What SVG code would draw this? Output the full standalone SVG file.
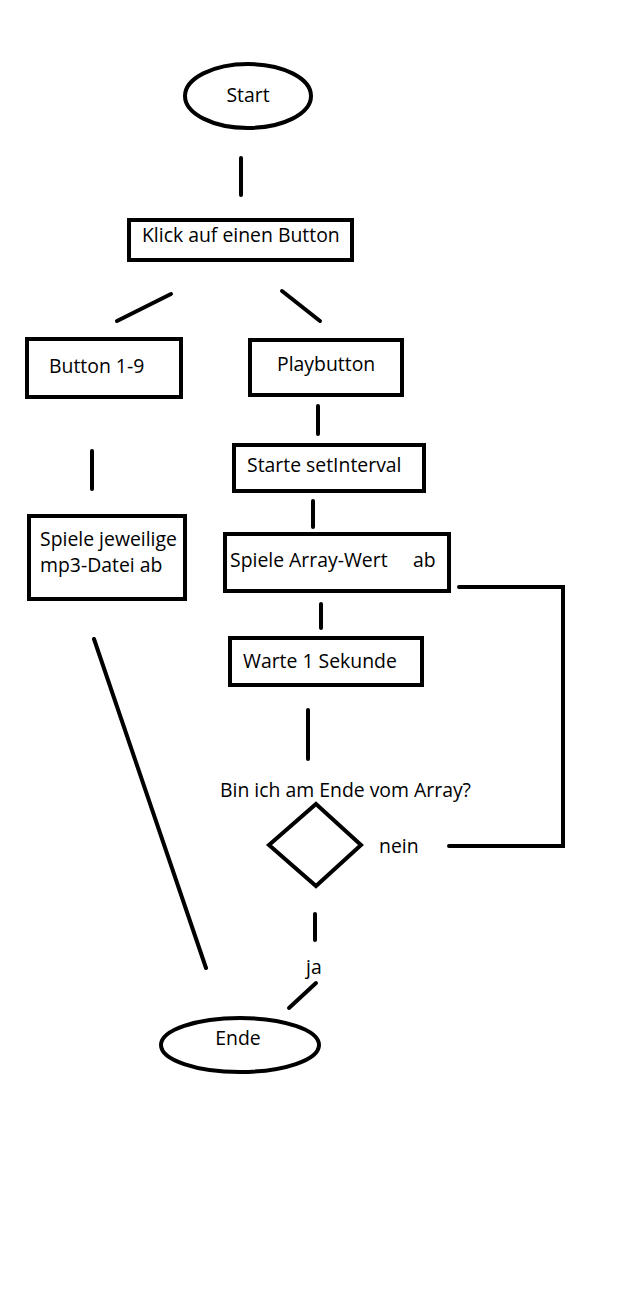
<svg xmlns="http://www.w3.org/2000/svg" width="643" height="1305" viewBox="0 0 643 1305">
<style>
.n{fill:none;stroke:#000;stroke-width:4}
.c{fill:none;stroke:#000;stroke-width:4;stroke-linecap:round;stroke-linejoin:miter}
text{font-family:"Open Sans","Noto Sans","Liberation Sans",sans-serif;font-size:19.4px;fill:#000}
</style>
<rect width="643" height="1305" fill="#fff"/>
<g id="connectors">
<line class="c" x1="241" y1="158" x2="241" y2="195"/>
<line class="c" x1="171" y1="294" x2="117" y2="321"/>
<line class="c" x1="282" y1="291" x2="320" y2="321"/>
<line class="c" x1="92" y1="451" x2="92" y2="489"/>
<line class="c" x1="318" y1="406" x2="318" y2="434"/>
<line class="c" x1="313" y1="501" x2="313" y2="527"/>
<line class="c" x1="321" y1="604" x2="321" y2="628"/>
<line class="c" x1="308" y1="710" x2="308" y2="759"/>
<polyline class="c" points="449,846 563,846 563,587 459,587"/>
<line class="c" x1="315" y1="914" x2="315" y2="940"/>
<line class="c" x1="316" y1="983" x2="289" y2="1008"/>
<line class="c" x1="94" y1="639" x2="206" y2="968"/>
<text x="379" y="853">nein</text>
<text x="306" y="974">ja</text>
</g>
<g id="start"><ellipse class="n" cx="248" cy="96" rx="63" ry="32"/><text x="248" y="102" text-anchor="middle">Start</text></g>
<g id="klick"><rect class="n" x="129" y="220" width="223" height="40"/><text x="142" y="242">Klick auf einen Button</text></g>
<g id="button19"><rect class="n" x="27" y="339" width="154" height="58"/><text x="49" y="373">Button 1-9</text></g>
<g id="playbutton"><rect class="n" x="250" y="340" width="152" height="55"/><text x="277" y="371">Playbutton</text></g>
<g id="setinterval"><rect class="n" x="234" y="445" width="190" height="46"/><text x="247" y="472">Starte setInterval</text></g>
<g id="spielearray"><rect class="n" x="225" y="534" width="224" height="57"/><text x="230" y="567">Spiele Array-Wert</text><text x="413" y="567">ab</text></g>
<g id="spielemp3"><rect class="n" x="29" y="516" width="156" height="83"/><text x="40" y="546">Spiele jeweilige</text><text x="40" y="572">mp3-Datei ab</text></g>
<g id="warte"><rect class="n" x="230" y="638" width="192" height="47"/><text x="243" y="668">Warte 1 Sekunde</text></g>
<g id="decision"><polygon class="n" points="316,804 361,845 316,886 269,845"/><text x="220" y="797">Bin ich am Ende vom Array?</text></g>
<g id="ende"><ellipse class="n" cx="240" cy="1045" rx="79" ry="27"/><text x="238" y="1045" text-anchor="middle">Ende</text></g>
</svg>
